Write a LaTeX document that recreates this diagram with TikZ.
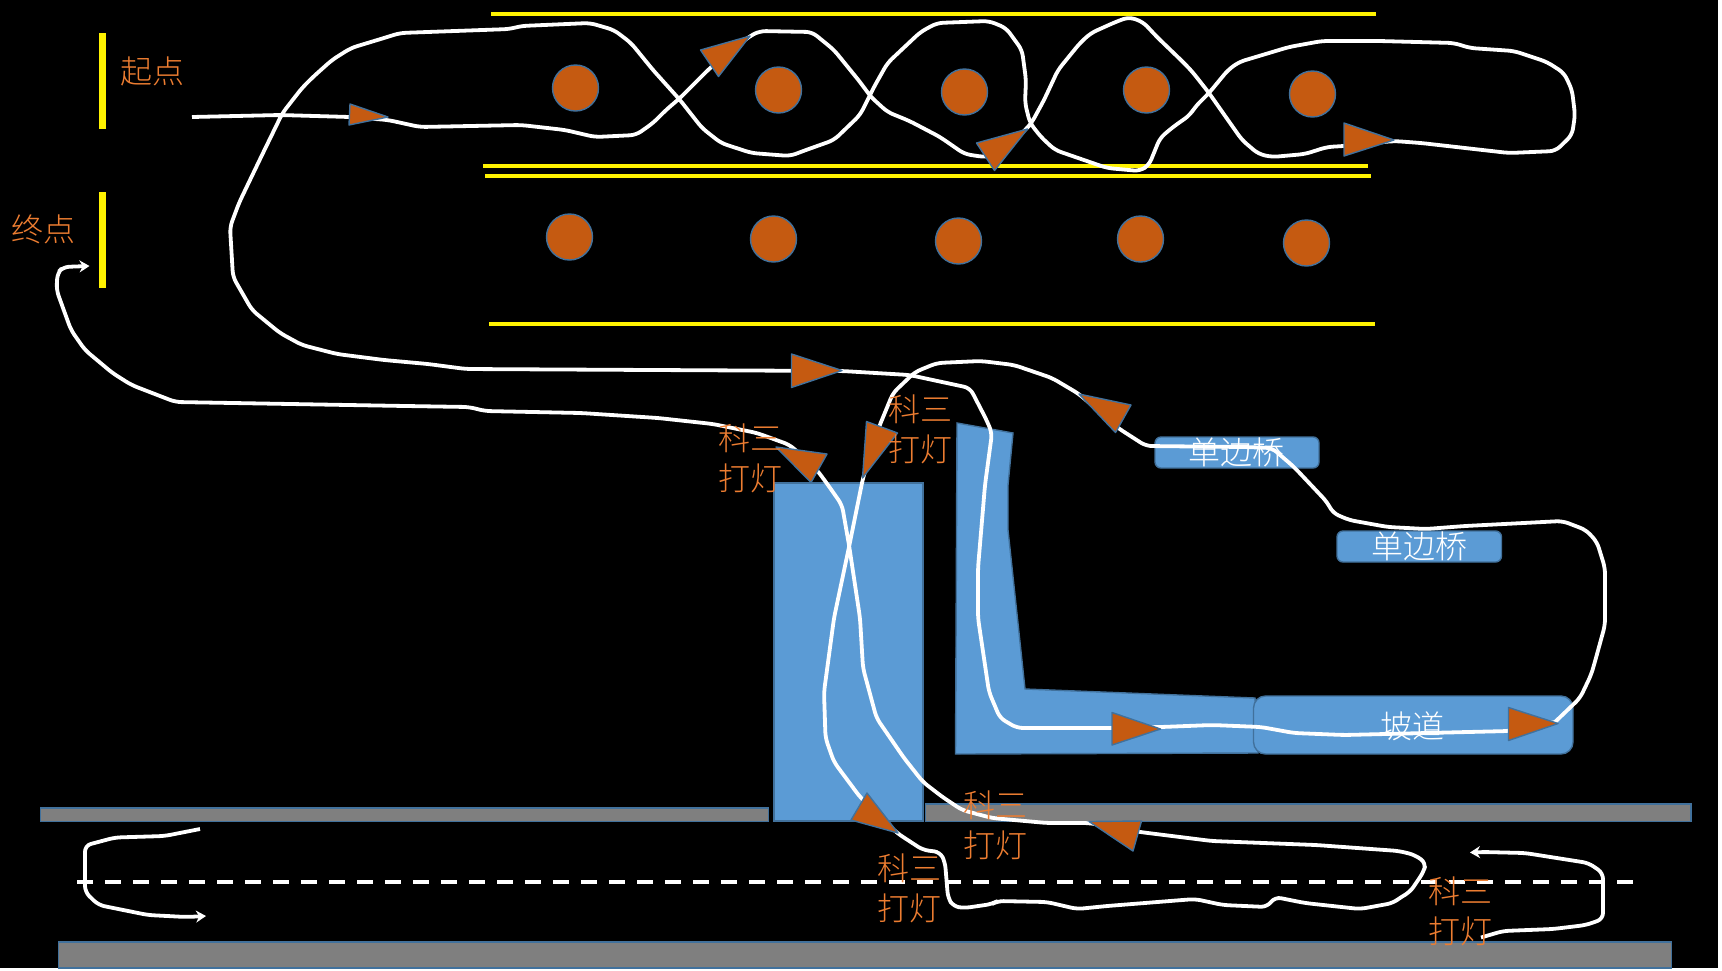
\documentclass[tikz,border=0pt]{standalone}
\usepackage{xcolor}
\usepackage{fontspec}
\setmainfont{Noto Sans CJK SC Light}
\usetikzlibrary{arrows.meta}

\definecolor{cone}{HTML}{C55A11}
\definecolor{rim}{HTML}{41719C}
\definecolor{road}{HTML}{5B9BD5}
\definecolor{kerb}{HTML}{7F7F7F}
\definecolor{tag}{HTML}{ED7D31}

\tikzset{
  yellowline/.style={yellow, line width=2pt},
  route/.style={white, line width=1.9pt, line join=round, rounded corners=3pt},
  conemark/.style={fill=cone, draw=rim, line width=0.7pt, line join=round},
  pile/.style={circle, fill=cone, draw=rim, line width=0.7pt, minimum size=23pt, inner sep=0pt},
  roadpart/.style={fill=road, draw=rim, line width=0.7pt},
  kerbbar/.style={fill=kerb, draw=rim, line width=0.8pt},
  tagtext/.style={tag, font=\fontsize{16}{20}\selectfont, align=center, inner sep=0pt},
  roadtext/.style={white, font=\fontsize{16}{20}\selectfont, inner sep=0pt},
}

\begin{document}
\begin{tikzpicture}[x=0.5pt, y=-0.5pt]
\useasboundingbox (0,0) rectangle (1722,970);
\fill[white] (0,0) rectangle (1722,970);
\fill[black] (0,0) rectangle (1718,968);

% Yellow borders
\draw[yellowline] (491,14) -- (1376,14);
\draw[yellowline] (483,166) -- (1368,166);
\draw[yellowline] (485,176) -- (1371,176);
\draw[yellowline] (489,324) -- (1375,324);
\draw[yellow, line width=3.5pt] (102,33) -- (102,129);
\draw[yellow, line width=3.5pt] (102,192) -- (102,288);

% Piles
\foreach \x/\y/\name in {575.5/88/a, 778.5/90/b, 964.5/92/c, 1146.5/90/d, 1312.5/94/e} {
    \node[pile] (top\name) at (\x,\y) {};
}
\foreach \x/\y/\name in {569.5/237/a, 773.5/239/b, 958.5/241/c, 1140.5/239/d, 1306.5/243/e} {
    \node[pile] (low\name) at (\x,\y) {};
}

% Road pieces
\draw[roadpart] (774,483) rectangle (923,821);
\draw[roadpart] (957,423) -- (1013,433) -- (1008,485) -- (1008,530) -- (1025,689) -- (1255,698) -- (1258,753) -- (955.5,754) -- cycle;
\draw[roadpart, rounded corners=6pt] (1253.5,696) rectangle (1573,754);
\draw[roadpart, rounded corners=3pt] (1155,437) rectangle (1319,468);
\draw[roadpart, rounded corners=3pt] (1337,531) rectangle (1501.5,562);

% Kerbs
\draw[kerbbar] (40.5,808) rectangle (768.5,821.5);
\draw[kerbbar] (925.5,804) rectangle (1691,821.5);
\draw[kerbbar] (58.5,942) rectangle (1671.5,968);

% Centre line
\draw[white, line width=2pt, dash pattern=on 8.2pt off 5.8pt] (77,881.5) -- (1634,881.5);

% Route
\draw[route] (192,117) -- (280,115) -- (350,117) -- (388,120) -- (420,127) -- (521,125) -- (565,130) -- (595,137) -- (636,135) -- (653,123) -- (666,110) -- (680,98) -- (710,68) -- (750,36) -- (760,31) -- (812,32) -- (834,50) -- (860,82) -- (871,97) -- (887.5,112) -- (909.5,121) -- (940,137) -- (964.5,154) -- (984,157) -- (1000,155) -- (1027,128) -- (1031.5,123) -- (1044,100) -- (1058,70) -- (1080,43) -- (1091,33) -- (1115.5,22) -- (1129,17) -- (1143,22) -- (1157,37) -- (1184,63) -- (1192.5,72) -- (1209,93) -- (1223,113) -- (1242,140) -- (1258.5,154) -- (1272,157) -- (1305,154) -- (1327,147) -- (1344,146) -- (1394,141) -- (1421,143) -- (1509,153) -- (1555.5,151) -- (1572,135) -- (1575,115) -- (1572,90) -- (1564,73) -- (1547,62) -- (1514,51) -- (1470,48) -- (1454,43) -- (1379.5,41) -- (1322,41) -- (1289,47) -- (1239,62) -- (1228,70) -- (1209,93) -- (1195,107) -- (1190,115) -- (1173,127) -- (1160,138) -- (1149,165) -- (1140,171) -- (1107,168) -- (1055,150) -- (1041,137) -- (1030,123) -- (1025,103) -- (1026,80) -- (1022,50) -- (1006,28) -- (989,21) -- (937,23) -- (920.5,32) -- (887.5,63) -- (874,87) -- (860,115) -- (834,140) -- (806,150) -- (790,156) -- (751.5,153) -- (721,143) -- (702,128) -- (680,100) -- (653,70) -- (631,43) -- (614,30) -- (590,23) -- (521,26) -- (510,29) -- (400,33) -- (384,38) -- (351,48) -- (332,60) -- (313,77) -- (302,88) -- (282.5,113) -- (263,153) -- (250,180) -- (239,203) -- (230,227) -- (233,277) -- (252,310) -- (280,333) -- (302,345) -- (337,354) -- (384,360) -- (428,364) -- (466,369) -- (842,371) -- (909.5,375) -- (970,388) -- (986.5,420) -- (992,433) -- (985,485) -- (978,568) -- (978,618) -- (989,692) -- (1000,718) -- (1017,728) -- (1112,728) -- (1161,727) -- (1212,725) -- (1261,727) -- (1294,733) -- (1344,735) -- (1509,731) -- (1555,722);
\draw[route] (1555,722) -- (1580,698) -- (1591,675) -- (1594,665) -- (1605,625) -- (1605,568) -- (1597,542) -- (1586,530) -- (1562.5,521) -- (1465,526) -- (1426,529) -- (1388,527) -- (1349,520) -- (1333,513) -- (1327,502) -- (1311,485) -- (1294,467) -- (1272,448) -- (1245,447) -- (1146,446) -- (1118,428) -- (1079,394) -- (1052,378) -- (1014,365) -- (981,361) -- (937,363) -- (915,372) -- (893,393) -- (879,427) -- (863,478) -- (849,547) -- (834,618) -- (824,692) -- (825.5,738) -- (834,762) -- (860,797) -- (897,833) -- (923,850) -- (940,852) -- (945,862) -- (948,898) -- (953.5,906.5) -- (964.5,908) -- (992,904) -- (997.5,901) -- (1047,902) -- (1077,909) -- (1107,906) -- (1195,899) -- (1223,905) -- (1267,907) -- (1275,897) -- (1305,903) -- (1360,909) -- (1393,903) -- (1401,897) -- (1410,892) -- (1423.5,872) -- (1426,863) -- (1415,855) -- (1399,851) -- (1316,845) -- (1212,841) -- (1140,832) -- (1089,823) -- (1047,823) -- (992,818) -- (962,810) -- (942.5,797) -- (923,782) -- (904,758) -- (876.5,718) -- (863,668) -- (860,618) -- (849,545) -- (842,505) -- (828,485) -- (817,470) -- (790,445) -- (757,433) -- (713,424) -- (658,418) -- (581,413) -- (485,411) -- (469,407) -- (406,406) -- (175.5,402) -- (131.5,385) -- (112.5,373) -- (85,350) -- (71,330) -- (56.5,290) -- (57.5,273) -- (63,267) -- (75,266.5);
\draw[route, -{Stealth[length=5pt, width=6pt]}] (75,266.5) -- (89.5,266);
\draw[route, -{Stealth[length=5pt, width=6pt]}] (200,829) -- (164.5,836) -- (115,837.5) -- (85,845.5) -- (85,892) -- (98.5,905) -- (148,915) -- (186.5,917) -- (206,916);
\draw[route, -{Stealth[length=5pt, width=6pt]}] (1481,937.5) -- (1503,931) -- (1553,929) -- (1586,925) -- (1603,919) -- (1603,873) -- (1588.5,863) -- (1525,853) -- (1484,852) -- (1470,852.5);

% Direction marks
\foreach \xa/\ya/\xb/\yb/\xc/\yc in {350/104/349/125/388/117, 750/36/700.5/50/718.5/76.5, 1027.5/129/976.5/143/994.5/170.5, 1344/123/1344/156/1394/140, 791.5/354/791.5/387.5/842/370.5, 776/447/827/454/811/482.5, 866.5/421.5/897.5/433/862.5/478, 1079/394/1131/405/1115.5/432.5, 1112/712.5/1112/745/1160.5/729, 1508.5/707.5/1508.5/740.5/1558/723.5, 1089/821.5/1141.5/821/1133/851, 867/793/898/833/851/820} {
    \draw[conemark] (\xa,\ya) -- (\xb,\yb) -- (\xc,\yc) -- cycle;
}

% Labels
\node[tagtext] (start) at (152,71) {起点};
\node[tagtext] (finish) at (43,229) {终点};
\node[tagtext] (lighta) at (750,458) {科三\\打灯};
\node[tagtext] (lightb) at (920,429) {科三\\打灯};
\node[tagtext] (lightc) at (995,825) {科三\\打灯};
\node[tagtext] (lightd) at (909,888) {科三\\打灯};
\node[tagtext] (lighte) at (1460,911) {科三\\打灯};
\node[roadtext] (bridgea) at (1236,452) {单边桥};
\node[roadtext] (bridgeb) at (1419,546) {单边桥};
\node[roadtext] (slope) at (1412,726) {坡道};
\end{tikzpicture}
\end{document}
